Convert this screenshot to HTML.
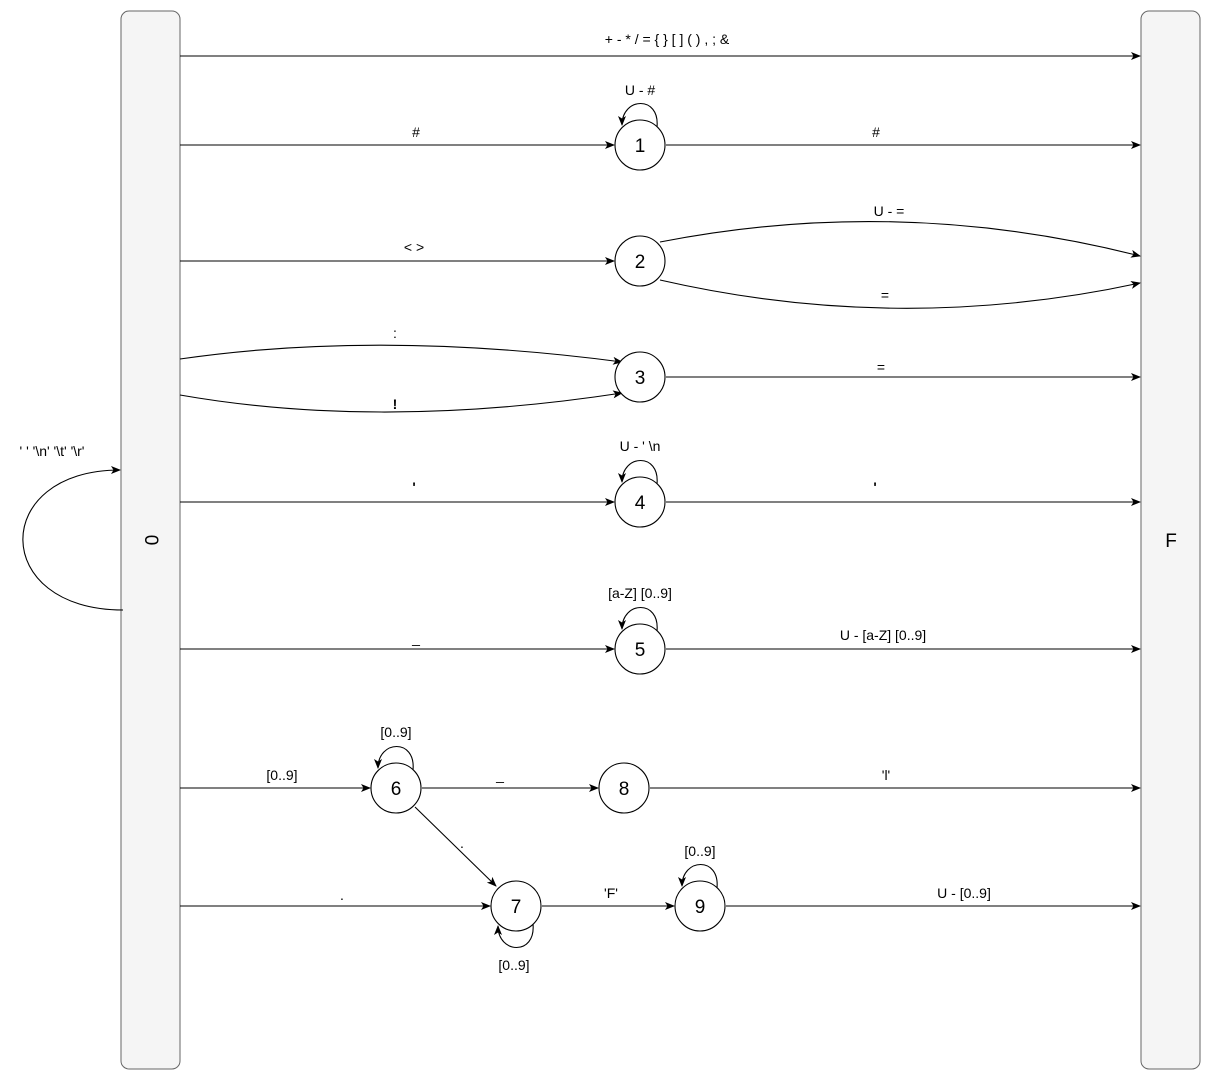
<!DOCTYPE html>
<html><head><meta charset="utf-8"><style>
body{margin:0;background:#fff}
svg{display:block;font-family:"Liberation Sans",Arial,sans-serif}
.l{font-size:14px;fill:#000;text-anchor:middle}
.n{font-size:19px;text-anchor:middle}
</style></head><body>
<svg width="1211" height="1081" viewBox="0 0 1211 1081">
<defs><marker id="a" markerWidth="10" markerHeight="8" refX="9" refY="4" orient="auto" markerUnits="userSpaceOnUse"><path d="M0,0 L10,4 L0,8 L2.5,4 Z" fill="#000"/></marker></defs>
<rect x="121" y="11" width="59" height="1058" rx="8" fill="#f5f5f5" stroke="#666"/>
<rect x="1141" y="11" width="59" height="1058" rx="8" fill="#f5f5f5" stroke="#666"/>
<text class="n" transform="translate(150,540) rotate(90)" dominant-baseline="middle">0</text>
<text class="n" x="1171" y="547">F</text>
<g fill="none" stroke="#000" stroke-width="1.1">
<path d="M180 56 H1140" marker-end="url(#a)"/>
<path d="M180 145 H614" marker-end="url(#a)"/>
<path d="M666 145 H1140" marker-end="url(#a)"/>
<path d="M180 261 H614" marker-end="url(#a)"/>
<path d="M660 242 Q900 195 1140 256" marker-end="url(#a)"/>
<path d="M660 280 Q900 335 1140 283" marker-end="url(#a)"/>
<path d="M180 359 Q380 330 622 362" marker-end="url(#a)"/>
<path d="M180 395 Q380 430 622 393" marker-end="url(#a)"/>
<path d="M666 377 H1140" marker-end="url(#a)"/>
<path d="M180 502 H614" marker-end="url(#a)"/>
<path d="M666 502 H1140" marker-end="url(#a)"/>
<path d="M180 649 H614" marker-end="url(#a)"/>
<path d="M666 649 H1140" marker-end="url(#a)"/>
<path d="M180 788 H370" marker-end="url(#a)"/>
<path d="M422 788 H598" marker-end="url(#a)"/>
<path d="M650 788 H1140" marker-end="url(#a)"/>
<path d="M415 807 L496 886" marker-end="url(#a)"/>
<path d="M180 906 H490" marker-end="url(#a)"/>
<path d="M542 906 H674" marker-end="url(#a)"/>
<path d="M726 906 H1140" marker-end="url(#a)"/>
<path d="M123 610 C-10 610 -10 470 120 470" marker-end="url(#a)"/>
<path d="M657 127 C660 95 622 97 622 125" marker-end="url(#a)"/>
<path d="M657 484 C660 452 622 454 622 482" marker-end="url(#a)"/>
<path d="M657 631 C660 599 622 601 622 629" marker-end="url(#a)"/>
<path d="M413 770 C416 738 378 740 378 768" marker-end="url(#a)"/>
<path d="M717 888 C720 856 682 858 682 886" marker-end="url(#a)"/>
<path d="M533 924 C536 956 498 954 498 926" marker-end="url(#a)"/>
</g>
<g fill="#fff" stroke="#000" stroke-width="1.1">
<circle cx="640" cy="145" r="25"/><circle cx="640" cy="261" r="25"/><circle cx="640" cy="377" r="25"/>
<circle cx="640" cy="502" r="25"/><circle cx="640" cy="649" r="25"/><circle cx="396" cy="788" r="25"/>
<circle cx="624" cy="788" r="25"/><circle cx="516" cy="906" r="25"/><circle cx="700" cy="906" r="25"/>
</g>
<g class="n"><text x="640" y="152">1</text><text x="640" y="268">2</text><text x="640" y="384">3</text><text x="640" y="509">4</text><text x="640" y="656">5</text><text x="396" y="795">6</text><text x="624" y="795">8</text><text x="516" y="913">7</text><text x="700" y="913">9</text></g>
<g class="l">
<text x="667" y="44">+ - * / = { } [ ] ( ) , ; &amp;</text>
<text x="640" y="95">U - #</text>
<text x="416" y="137">#</text><text x="876" y="137">#</text>
<text x="889" y="216">U - =</text><text x="885" y="300">=</text>
<text x="414" y="252">&lt; &gt;</text>
<text x="395" y="338">:</text><text x="395" y="409" font-weight="bold">!</text>
<text x="881" y="372">=</text>
<text x="640" y="451">U - ' \n</text>
<text x="414" y="492" font-weight="bold">'</text><text x="875" y="492" font-weight="bold">'</text>
<text x="640" y="598">[a-Z] [0..9]</text>
<text x="416" y="643">_</text><text x="883" y="640">U - [a-Z] [0..9]</text>
<text x="396" y="737">[0..9]</text><text x="282" y="780">[0..9]</text>
<text x="500" y="780">_</text><text x="886" y="780">'l'</text>
<text x="462" y="848">.</text>
<text x="342" y="900">.</text><text x="611" y="898">'F'</text>
<text x="700" y="856">[0..9]</text><text x="964" y="898">U - [0..9]</text>
<text x="514" y="970">[0..9]</text>
<text x="52" y="456">' ' '\n' '\t' '\r'</text>
</g>
</svg>
</body></html>
